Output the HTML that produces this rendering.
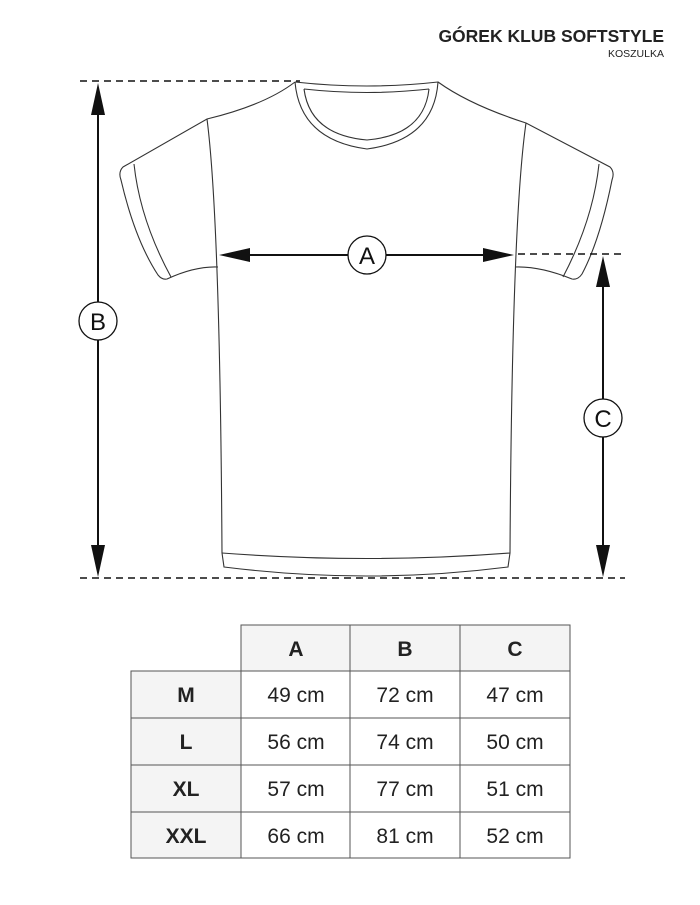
<!DOCTYPE html>
<html><head><meta charset="utf-8"><style>
body{margin:0;width:700px;height:900px;background:#fff;font-family:"Liberation Sans",sans-serif;overflow:hidden}
</style></head><body>
<svg width="700" height="900" viewBox="0 0 700 900" xmlns="http://www.w3.org/2000/svg">
<text x="664" y="42" text-anchor="end" font-family="Liberation Sans" font-weight="bold" font-size="17.5" fill="#222">GÓREK KLUB SOFTSTYLE</text>
<text x="664" y="57" text-anchor="end" font-family="Liberation Sans" font-size="10.5" fill="#222">KOSZULKA</text>
<g fill="none" stroke="#333" stroke-width="1.1">
<path d="M295,82 Q367,90 438,82 Q470,105 526,123 L610,167 Q615,172 612,180 Q600,240 582,274 Q578,280 572,279 Q540,266 515,267"/>
<path d="M295,82 Q265,105 207,119 L123,167 Q118,172 121,180 Q135,240 158,275 Q162,280 167,279 Q195,266 218,267"/>
<path d="M207,119 Q220,220 222,553 L224,567 Q367,585 508,567 L510,553 Q512,220 526,123"/>
<path d="M222,553 Q367,564 510,553"/>
<path d="M295,82 Q300,140 367,149 Q434,140 438,82"/>
<path d="M304,89 Q367,96 429,89"/>
<path d="M304,89 Q310,135 367,140 Q424,135 429,89"/>
<path d="M134,164 Q140,220 171,277"/>
<path d="M599,164 Q593,220 563,277"/>
</g>
<g stroke="#111" stroke-width="1.5" stroke-dasharray="7,5">
<line x1="80" y1="81" x2="300" y2="81"/>
<line x1="80" y1="578" x2="625" y2="578"/>
<line x1="518" y1="254" x2="625" y2="254"/>
</g>
<g stroke="#111" stroke-width="2">
<line x1="98" y1="100" x2="98" y2="560"/>
<line x1="603" y1="272" x2="603" y2="560"/>
<line x1="240" y1="255" x2="495" y2="255"/>
</g>
<g fill="#111">
<polygon points="98,83 91,115 105,115"/>
<polygon points="98,577 91,545 105,545"/>
<polygon points="603,256 596,287 610,287"/>
<polygon points="603,577 596,545 610,545"/>
<polygon points="219,255 250,248 250,262"/>
<polygon points="514,255 483,248 483,262"/>
</g>
<g fill="#fff" stroke="#111" stroke-width="1.3">
<circle cx="367" cy="255" r="19"/>
<circle cx="98" cy="321" r="19"/>
<circle cx="603" cy="418" r="19"/>
</g>
<g font-family="Liberation Sans" font-size="24" text-anchor="middle" fill="#111">
<text x="367" y="264">A</text><text x="98" y="330">B</text><text x="603" y="427">C</text>
</g>
<g fill="#f4f4f4">
<rect x="241" y="625" width="329" height="46"/>
<rect x="131" y="671" width="110" height="187"/>
</g>
<g stroke="#555" stroke-width="1" fill="none">
<rect x="241" y="625" width="329" height="233"/>
<rect x="131" y="671" width="439" height="187"/>
<line x1="350" y1="625" x2="350" y2="858"/>
<line x1="460" y1="625" x2="460" y2="858"/>
<line x1="131" y1="671" x2="570" y2="671"/>
<line x1="131" y1="718" x2="570" y2="718"/>
<line x1="131" y1="765" x2="570" y2="765"/>
<line x1="131" y1="812" x2="570" y2="812"/>
</g>
<g font-family="Liberation Sans" font-size="21" text-anchor="middle" fill="#222">
<g font-weight="bold">
<text x="296" y="656">A</text><text x="405" y="656">B</text><text x="515" y="656">C</text>
<text x="186" y="702">M</text><text x="186" y="749">L</text><text x="186" y="796">XL</text><text x="186" y="843">XXL</text>
</g>
<text x="296" y="702">49 cm</text><text x="405" y="702">72 cm</text><text x="515" y="702">47 cm</text>
<text x="296" y="749">56 cm</text><text x="405" y="749">74 cm</text><text x="515" y="749">50 cm</text>
<text x="296" y="796">57 cm</text><text x="405" y="796">77 cm</text><text x="515" y="796">51 cm</text>
<text x="296" y="843">66 cm</text><text x="405" y="843">81 cm</text><text x="515" y="843">52 cm</text>
</g>
</svg>
</body></html>
